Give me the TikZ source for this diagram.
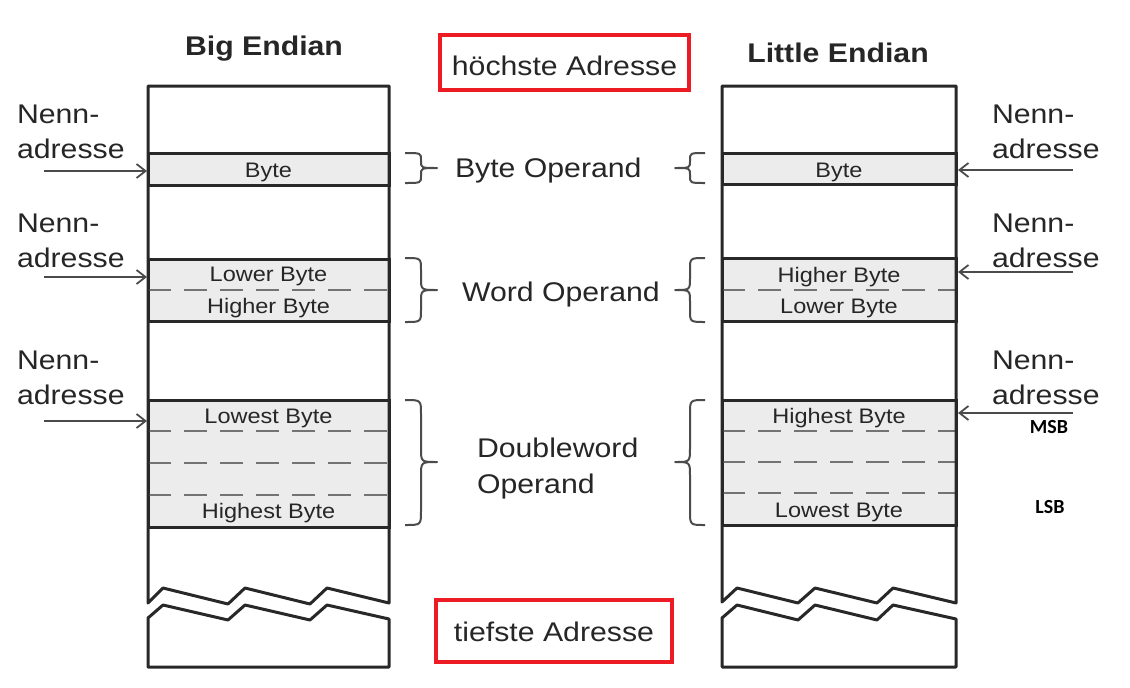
\documentclass[tikz,border=0pt]{standalone}
\usepackage{fontspec}
\setmainfont{Liberation Sans}[FakeStretch=1.12]
\newfontfamily\msbfont{Carlito}
\usetikzlibrary{arrows.meta}
\definecolor{redbox}{RGB}{237,28,36}
\definecolor{colline}{RGB}{40,40,40}
\definecolor{bandfill}{RGB}{236,236,236}
\definecolor{dashgray}{RGB}{115,115,115}
\definecolor{arrgray}{RGB}{75,75,75}
\newcommand\bigtxt{\fontsize{27}{32}\selectfont}
\newcommand\celltxt{\fontsize{21}{25}\selectfont}
\begin{document}
\begin{tikzpicture}[x=1pt,y=-1pt,
  every node/.style={inner sep=0pt, outer sep=0pt},
  col/.style={draw=colline, line width=3pt, line join=round},
  bandbox/.style={fill=bandfill, draw=colline, line width=3pt},
  sep/.style={draw=dashgray, line width=2.2pt, dash pattern=on 23pt off 13pt},
  arr/.style={draw=arrgray, line width=1.8pt, -{Straight Barb[length=9pt,width=14pt,line width=1.8pt]}},
  brc/.style={draw=arrgray, line width=2pt, line join=round},
  redframe/.style={draw=redbox, line width=4pt},
  big/.style={font=\bigtxt, text=black!85},
  cell/.style={font=\celltxt, text=black!85},
  msb/.style={font=\msbfont\bfseries\fontsize{20}{24}\selectfont, text=black}
]
\path[use as bounding box] (0,0) rectangle (1130,688);

% ---------- left column (Big Endian) ----------
\path[bandbox] (148,153) rectangle (389,185);
\path[bandbox] (148,259) rectangle (389,321);
\path[bandbox] (148,400) rectangle (389,527);
\draw[sep] (148,290) -- (389,290);
\draw[sep] (148,431) -- (389,431);
\draw[sep] (148,463) -- (389,463);
\draw[sep] (148,495) -- (389,495);
\draw[col] (148,603) -- (148,86) -- (389,86) -- (389,603) -- (327,588) -- (310,604)
  -- (245,588) -- (228,604) -- (163,588) -- cycle;
\draw[col] (148,618) -- (163,605) -- (228,620) -- (245,605) -- (310,620) -- (327,605)
  -- (389,619) -- (389,667) -- (148,667) -- cycle;

% ---------- right column (Little Endian) ----------
\path[bandbox] (722,153) rectangle (956,184);
\path[bandbox] (722,258) rectangle (956,321);
\path[bandbox] (722,400) rectangle (956,525);
\draw[sep] (722,290) -- (956,290);
\draw[sep] (722,431) -- (956,431);
\draw[sep] (722,462) -- (956,462);
\draw[sep] (722,493) -- (956,493);
\draw[col] (722,602) -- (722,86) -- (956,86) -- (956,603) -- (893,588) -- (877,603)
  -- (815,588) -- (798,603) -- (737,588) -- cycle;
\draw[col] (722,618) -- (737,605) -- (798,620) -- (815,605) -- (877,620) -- (893,605)
  -- (956,619) -- (956,667) -- (722,667) -- cycle;

% ---------- cell labels ----------
\node[cell, anchor=base] (lb1) at (268.5,177) {Byte};
\node[cell, anchor=base] (lb2) at (268.5,281) {Lower Byte};
\node[cell, anchor=base] (lb3) at (268.5,313) {Higher Byte};
\node[cell, anchor=base] (lb4) at (268.5,423) {Lowest Byte};
\node[cell, anchor=base] (lb5) at (268.5,518) {Highest Byte};
\node[cell, anchor=base] (rb1) at (839,177) {Byte};
\node[cell, anchor=base] (rb2) at (839,282) {Higher Byte};
\node[cell, anchor=base] (rb3) at (839,313) {Lower Byte};
\node[cell, anchor=base] (rb4) at (839,423) {Highest Byte};
\node[cell, anchor=base] (rb5) at (839,517) {Lowest Byte};

% ---------- titles ----------
\node[big, font=\bigtxt\bfseries, anchor=base] (tbig) at (264,55) {Big Endian};
\node[big, font=\bigtxt\bfseries, anchor=base] (tlittle) at (838,62) {Little Endian};
\node[big, anchor=base] (hoch) at (564.5,75) {höchste Adresse};
\node[big, anchor=base] (tief) at (554,641) {tiefste Adresse};
\draw[redframe] (440,35) rectangle (689,90);
\draw[redframe] (436,600) rectangle (672,662);

% ---------- operand labels ----------
\node[big, anchor=base west] (op1) at (455,177) {Byte Operand};
\node[big, anchor=base west] (op2) at (462,301) {Word Operand};
\node[big, anchor=base west] (op3a) at (477,457) {Doubleword};
\node[big, anchor=base west] (op3b) at (477,493) {Operand};

% ---------- braces ----------
\draw[brc] (405,153) .. controls (421,153) .. (421,160) -- (421,161) .. controls (421,168) .. (437,168)
  .. controls (421,168) .. (421,175) -- (421,176) .. controls (421,183) .. (405,183);
\draw[brc] (405,258) .. controls (421,258) .. (421,270) -- (421,278) .. controls (421,290) .. (437,290)
  .. controls (421,290) .. (421,302) -- (421,310) .. controls (421,322) .. (405,322);
\draw[brc] (405,400) .. controls (421,400) .. (421,414) -- (421,448) .. controls (421,462) .. (437,462)
  .. controls (421,462) .. (421,476) -- (421,511) .. controls (421,525) .. (405,525);
\draw[brc] (705,153) .. controls (690,153) .. (690,160) -- (690,161) .. controls (690,168) .. (675,168)
  .. controls (690,168) .. (690,175) -- (690,176) .. controls (690,183) .. (705,183);
\draw[brc] (705,258) .. controls (690,258) .. (690,270) -- (690,278) .. controls (690,290) .. (675,290)
  .. controls (690,290) .. (690,302) -- (690,310) .. controls (690,322) .. (705,322);
\draw[brc] (705,400) .. controls (690,400) .. (690,414) -- (690,448) .. controls (690,462) .. (675,462)
  .. controls (690,462) .. (690,476) -- (690,511) .. controls (690,525) .. (705,525);

% ---------- Nennadresse labels ----------
\node[big, anchor=base west] (ln1a) at (17,123) {Nenn-};
\node[big, anchor=base west] (ln1b) at (17,158) {adresse};
\node[big, anchor=base west] (ln2a) at (17,232) {Nenn-};
\node[big, anchor=base west] (ln2b) at (17,267) {adresse};
\node[big, anchor=base west] (ln3a) at (17,369) {Nenn-};
\node[big, anchor=base west] (ln3b) at (17,404) {adresse};
\node[big, anchor=base west] (rn1a) at (992,123) {Nenn-};
\node[big, anchor=base west] (rn1b) at (992,158) {adresse};
\node[big, anchor=base west] (rn2a) at (992,232) {Nenn-};
\node[big, anchor=base west] (rn2b) at (992,267) {adresse};
\node[big, anchor=base west] (rn3a) at (992,369) {Nenn-};
\node[big, anchor=base west] (rn3b) at (992,404) {adresse};

% ---------- arrows ----------
\coordinate (la1s) at (44,171);  \coordinate (la1e) at (147,171);
\coordinate (la2s) at (44,277);  \coordinate (la2e) at (147,277);
\coordinate (la3s) at (44,421);  \coordinate (la3e) at (147,421);
\coordinate (ra1s) at (1073,170); \coordinate (ra1e) at (958,170);
\coordinate (ra2s) at (1073,272); \coordinate (ra2e) at (958,272);
\coordinate (ra3s) at (1073,413); \coordinate (ra3e) at (958,413);
\draw[arr] (la1s) -- (la1e);
\draw[arr] (la2s) -- (la2e);
\draw[arr] (la3s) -- (la3e);
\draw[arr] (ra1s) -- (ra1e);
\draw[arr] (ra2s) -- (ra2e);
\draw[arr] (ra3s) -- (ra3e);

% ---------- MSB / LSB ----------
\node[msb, anchor=base] (msbl) at (1049,433) {MSB};
\node[msb, anchor=base] (lsbl) at (1050,513) {LSB};
\end{tikzpicture}
\end{document}
